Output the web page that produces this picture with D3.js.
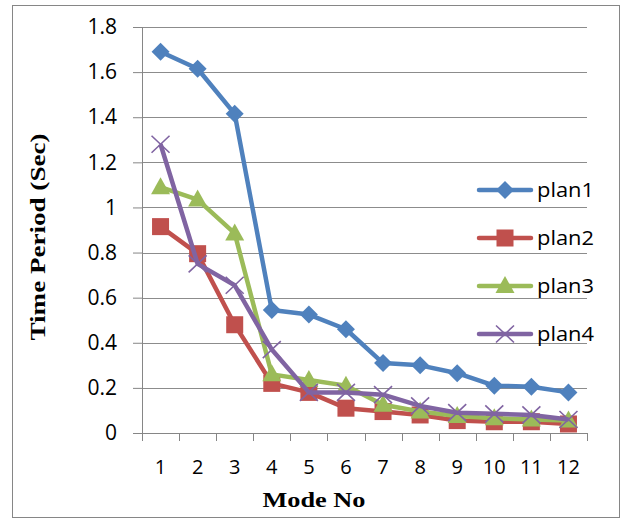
<!doctype html>
<html lang="en">
  <head>
    <meta charset="utf-8">
    <title>Time period per mode</title>
    <script src="https://d3js.org/d3.v7.min.js"></script>
    <style>
      body { margin: 0; background: #fff; }
    </style>
  </head>

  <body>
    <svg width="625" height="519"></svg>

    <script>
      // data
      var modes = [1, 2, 3, 4, 5, 6, 7, 8, 9, 10, 11, 12];
      var yTicks = [0, 0.2, 0.4, 0.6, 0.8, 1, 1.2, 1.4, 1.6, 1.8];
      var seriesNames = ['plan1', 'plan2', 'plan3', 'plan4'];
      var plan1 = [1.69, 1.615, 1.415, 0.545, 0.525, 0.46, 0.31, 0.30, 0.265, 0.21, 0.205, 0.18];
      var plan2 = [0.915, 0.795, 0.48, 0.22, 0.18, 0.11, 0.095, 0.08, 0.055, 0.05, 0.05, 0.04];
      var plan3 = [1.09, 1.035, 0.885, 0.26, 0.235, 0.21, 0.125, 0.095, 0.075, 0.065, 0.06, 0.055];
      var plan4 = [1.28, 0.75, 0.655, 0.37, 0.18, 0.18, 0.17, 0.12, 0.09, 0.085, 0.08, 0.06];

      var colors = ['#4F81BD', '#C0504D', '#9BBB59', '#8064A2'];
      var allSeries = [plan1, plan2, plan3, plan4];

      var svg = d3.select('svg');

      // outer frame
      svg.append('rect')
        .attr('x', 12.5).attr('y', 5.5)
        .attr('width', 607).attr('height', 512)
        .attr('fill', 'none')
        .attr('stroke', '#868686')
        .attr('stroke-width', 1);

      var plotLeft = 142, plotRight = 587, plotTop = 27, plotBottom = 433;

      var x = d3.scaleBand().domain(modes).range([plotLeft, plotRight]);
      var y = d3.scaleLinear().domain([0, 1.8]).range([plotBottom, plotTop]);

      // gridlines
      svg.append('g').selectAll('line')
        .data(yTicks.slice(1))
        .enter().append('line')
        .attr('x1', plotLeft).attr('x2', plotRight)
        .attr('y1', function(d){ return Math.round(y(d)) + 0.5; })
        .attr('y2', function(d){ return Math.round(y(d)) + 0.5; })
        .attr('stroke', '#8c8c8c')
        .attr('stroke-width', 1);

      var tickFont = '"Open Sans", Lato, sans-serif';

      // y axis
      var yAxis = svg.append('g')
        .attr('transform', 'translate(' + plotLeft + ',0)')
        .call(d3.axisLeft(y).tickValues(yTicks).tickSize(9).tickPadding(16)
          .tickFormat(function(d){ return String(d); }));
      yAxis.select('.domain').attr('stroke', '#868686');
      yAxis.selectAll('.tick line').attr('stroke', '#868686');
      yAxis.selectAll('text')
        .style('font-family', tickFont).style('font-size', '21px').attr('fill', '#000');

      // x axis
      var xAxis = svg.append('g')
        .attr('transform', 'translate(0,' + plotBottom + ')')
        .call(d3.axisBottom(x).tickSize(0).tickPadding(27));
      xAxis.select('.domain').attr('stroke', '#868686').attr('d', 'M' + plotLeft + ',0.5H' + plotRight);
      xAxis.selectAll('text')
        .style('font-family', tickFont).style('font-size', '20px').attr('fill', '#000');
      // category separators
      xAxis.append('g').selectAll('line')
        .data(d3.range(modes.length + 1))
        .enter().append('line')
        .attr('x1', function(i){ return Math.round(plotLeft + i * x.step()) + 0.5; })
        .attr('x2', function(i){ return Math.round(plotLeft + i * x.step()) + 0.5; })
        .attr('y1', 0).attr('y2', 8)
        .attr('stroke', '#868686');

      // axis titles
      svg.append('text')
        .attr('transform', 'translate(45,237) rotate(-90)')
        .attr('text-anchor', 'middle')
        .attr('textLength', 207).attr('lengthAdjust', 'spacingAndGlyphs')
        .style('font-family', '"Liberation Serif", serif')
        .style('font-weight', 'bold').style('font-size', '21px')
        .text('Time Period (Sec)');

      svg.append('text')
        .attr('x', 314).attr('y', 507)
        .attr('text-anchor', 'middle')
        .attr('textLength', 103).attr('lengthAdjust', 'spacingAndGlyphs')
        .style('font-family', '"Liberation Serif", serif')
        .style('font-weight', 'bold').style('font-size', '22px')
        .text('Mode No');

      var cx = function(i){ return x(modes[i]) + x.bandwidth() / 2; };

      // marker shapes
      var drawMarker = function(g, k, color){
        if (k === 0) {
          g.append('path').attr('d', 'M0,-9L9,0L0,9L-9,0Z').attr('fill', color);
        } else if (k === 1) {
          g.append('rect').attr('x', -8.5).attr('y', -8.5).attr('width', 17).attr('height', 17).attr('fill', color);
        } else if (k === 2) {
          g.append('path').attr('d', 'M0,-10L9.5,7L-9.5,7Z').attr('fill', color);
        } else {
          g.append('path').attr('d', 'M-9,-8.5L9,8.5M-9,8.5L9,-8.5')
            .attr('stroke', color).attr('stroke-width', 1.6).attr('fill', 'none');
        }
      };

      var line = d3.line()
        .x(function(d, i){ return cx(i); })
        .y(function(d){ return y(d); });

      allSeries.forEach(function(vals, k){
        var g = svg.append('g');
        g.append('path')
          .attr('d', line(vals))
          .attr('fill', 'none')
          .attr('stroke', colors[k])
          .attr('stroke-width', 4.5)
          .attr('stroke-linejoin', 'round');
        vals.forEach(function(v, i){
          var m = g.append('g').attr('transform', 'translate(' + cx(i) + ',' + y(v) + ')');
          drawMarker(m, k, colors[k]);
        });
      });

      // legend
      var legend = svg.append('g');
      seriesNames.forEach(function(name, k){
        var ly = 190 + k * 48;
        var row = legend.append('g').attr('transform', 'translate(0,' + ly + ')');
        row.append('line')
          .attr('x1', 479).attr('x2', 531)
          .attr('y1', 0).attr('y2', 0)
          .attr('stroke', colors[k]).attr('stroke-width', 4.5).attr('stroke-linecap', 'round');
        var m = row.append('g').attr('transform', 'translate(505,0)');
        drawMarker(m, k, colors[k]);
        row.append('text')
          .attr('x', 537).attr('y', 7)
          .attr('textLength', 57).attr('lengthAdjust', 'spacingAndGlyphs')
          .style('font-family', tickFont).style('font-size', '20px')
          .text(name);
      });
    </script>
  </body>
</html>
